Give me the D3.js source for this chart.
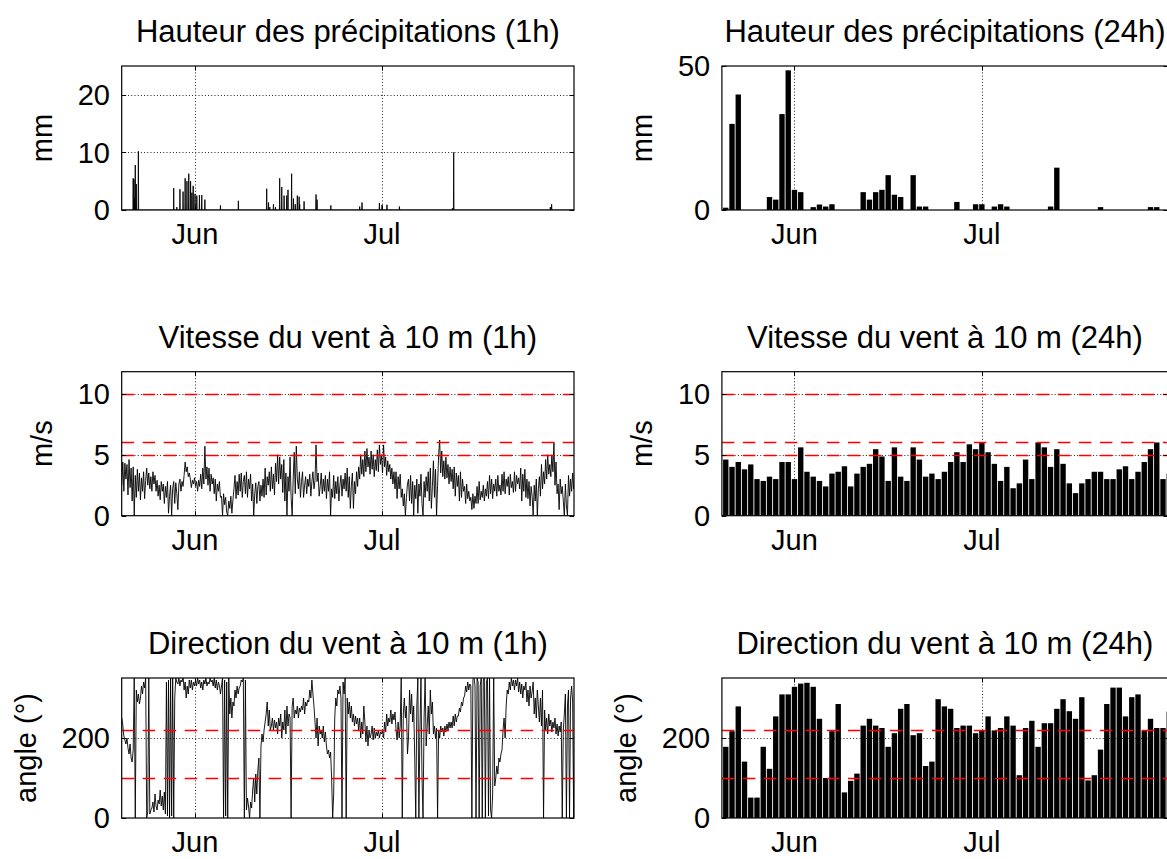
<!DOCTYPE html>
<html>
<head>
<meta charset="utf-8">
<script src="https://cdn.jsdelivr.net/npm/d3@7"></script>
<style>
  body { margin: 0; background: #fff; }
  svg text { font-family: "Liberation Sans", Arial, Helvetica, sans-serif; fill: #000; }
</style>
</head>
<body>
<svg id="chart" width="1167" height="859"></svg>
<script>
// ---------- time base ----------
const DAY = 864e5, HOUR = 36e5;
const t0 = Date.UTC(2013, 4, 20);                 // 20 mai, 00:00
const hourlyStart = Date.UTC(2013, 4, 20, 6);     // first sample of the sub-daily series
const hourlyStepHours = 4;
const firstDailyDay = 1;                          // daily bars start on 21 mai

const monthTicks = [Date.UTC(2013, 5, 1), Date.UTC(2013, 6, 1)];
const monthLabels = ["Jun", "Jul"];

const titles = [
  "Hauteur des précipitations (1h)", "Hauteur des précipitations (24h)",
  "Vitesse du vent à 10 m (1h)", "Vitesse du vent à 10 m (24h)",
  "Direction du vent à 10 m (1h)", "Direction du vent à 10 m (24h)"
];
const yLabels = ["mm", "m/s", "angle (°)"];

const precipTicks1h = [0, 10, 20];
const precipTicks24h = [0, 50];
const windTicks = [0, 5, 10];
const dirTicks = [0, 200];

const windThresholds = [5, 6, 10];
const dirThresholds = [100, 220];

// ---------- hourly precipitation: non-zero hours (hours after 20 mai 00:00) ----------
const precipHour = [50, 53, 55, 58, 60, 62, 70,
  206, 218, 230, 242, 250, 257, 264, 271, 276, 281, 288, 295, 305, 314, 326,
  386, 455,
  564, 571, 576, 590, 598, 614, 622, 631, 641, 646, 660, 667, 674, 682, 689, 691, 708,
  754, 758, 811, 922, 931, 998, 1008, 1027, 1075, 1279, 1284, 1656, 1661];
const precipMm = [5.5, 5.3, 2.0, 7.8, 1.0, 4.5, 10.2,
  3.8, 0.5, 3.6, 3.2, 5.5, 5.0, 6.3, 5.0, 3.0, 4.2, 2.8, 2.5, 2.6, 2.6, 1.8,
  0.8, 1.6,
  3.7, 1.3, 0.5, 1.0, 0.5, 5.5, 4.0, 2.5, 2.5, 3.5, 6.3, 2.0, 1.0, 2.5, 2.3, 1.0, 1.5,
  2.7, 1.8, 0.8, 0.6, 1.3, 1.2, 0.9, 0.9, 0.6, 0.3, 10.0, 0.5, 1.0];
const precipLastHour = 1748;

// ---------- daily precipitation (mm), from 21 mai ----------
const precipDaily = [
  0.8, 29.9, 40.1, 0, 0, 0, 0, 4.5, 3.6, 33.3,
  48.5, 7.0, 6.2, 0, 1.0, 1.9, 1.2, 2.0, 0, 0,
  0, 0, 6.2, 3.6, 6.2, 7.0, 12.1, 5.3, 4.5, 0,
  12.1, 1.2, 1.2, 0, 0, 0, 0, 2.8, 0, 0,
  2.0, 2.0, 0, 1.2, 2.0, 1.2, 0, 0, 0, 0,
  0, 0, 1.2, 14.7, 0, 0, 0, 0, 0, 0,
  1.0, 0, 0, 0, 0, 0, 0, 0, 1.0, 1.0,
  0, 0];

// ---------- wind speed (m/s), one row per day, 4-hourly ----------
const windSpeed = [
  2.5,4.4,2.0,4.3,3.0,4.2,  1.7,4.6,2.3,3.9,1.2,4.0,  0.0,3.3,1.5,3.8,2.0,3.5,  1.3,3.1,2.0,3.6,1.4,2.9,
  3.9,2.5,3.5,2.2,3.2,2.0,  3.6,2.6,3.3,2.0,2.9,1.6,  2.5,1.3,2.8,2.0,2.6,1.0,  2.4,1.5,2.8,0.2,1.6,2.5,
  0.0,2.2,2.8,1.0,2.7,1.8,  0.5,2.6,3.0,2.0,2.8,2.4,  3.3,4.4,3.6,4.0,3.2,3.5,  3.0,2.3,2.9,2.6,3.1,2.4,
  2.8,2.0,2.9,2.4,3.4,2.2,  3.9,2.6,5.7,3.0,4.0,2.5,  3.9,2.0,3.4,2.6,3.1,1.8,  3.0,1.2,2.6,2.0,2.8,1.5,
  1.6,0.0,1.8,0.9,1.5,0.3,  0.0,1.2,0.6,1.6,0.2,1.3,  2.2,3.3,1.4,2.8,1.7,3.4,  2.0,3.5,1.5,2.8,3.3,1.8,
  3.6,1.5,3.0,2.2,3.4,1.2,  2.6,0.0,1.8,2.7,1.0,2.4,  2.8,1.2,2.5,1.6,3.0,1.5,  3.9,1.7,3.2,2.5,3.6,2.0,
  4.0,2.2,3.4,1.7,4.3,2.8,  5.0,2.6,4.8,3.0,4.2,1.9,  4.6,1.2,3.5,0.0,3.2,2.0,  4.8,1.5,0.0,3.0,5.2,1.8,
  5.7,3.0,2.2,3.6,1.5,2.8,  3.6,1.5,2.5,3.2,1.8,3.0,  2.4,3.4,1.6,2.8,3.6,2.2,  2.9,5.8,2.8,3.5,1.6,2.4,
  3.5,1.8,3.0,2.0,3.3,1.4,  3.0,2.0,3.6,0.0,2.2,1.5,  3.3,1.4,2.8,1.8,3.2,1.2,  2.5,3.3,1.6,3.0,2.2,3.5,
  2.0,3.9,1.5,3.2,0.6,2.5,  3.5,0.6,2.8,1.8,3.6,2.4,  4.0,3.0,5.0,3.4,4.6,3.2,  5.3,3.6,5.5,4.0,4.8,3.4,
  5.3,3.8,5.0,3.2,4.6,3.7,  5.4,3.6,5.8,4.2,5.0,3.5,  5.8,4.0,4.8,3.3,4.5,3.6,  4.2,3.0,3.9,2.6,3.6,2.2,
  3.6,1.4,3.2,2.2,3.4,1.5,  2.2,0.8,1.8,0.0,1.5,2.6,  3.0,1.2,3.3,1.0,2.8,0.0,  2.5,1.4,3.0,0.2,2.6,1.6,
  3.4,1.0,0.0,2.8,1.5,3.2,  2.0,3.6,1.2,3.9,0.6,2.4,  4.5,1.5,3.8,0.0,2.5,5.0,  6.2,3.5,5.3,3.2,4.5,3.0,
  4.8,3.1,4.2,2.6,4.0,2.8,  3.8,2.2,4.0,1.6,3.5,2.4,  3.3,1.2,3.6,1.5,3.0,2.0,  2.4,1.0,2.6,1.4,2.0,1.2,
  1.5,0.5,1.8,0.6,1.6,1.0,  2.4,1.0,2.8,1.3,2.0,1.5,  2.5,1.2,2.2,1.6,2.8,1.4,  3.3,1.8,3.0,1.4,2.6,2.0,
  3.0,1.6,3.3,2.0,2.5,1.7,  3.4,2.0,3.6,1.8,3.0,2.4,  3.2,1.7,3.4,2.3,2.8,1.9,  3.6,2.0,3.3,2.6,3.1,2.2,
  3.9,1.2,3.4,2.0,3.8,1.5,  3.0,1.4,2.8,0.8,2.4,1.6,  0.0,2.5,1.2,3.0,0.0,2.2,  3.2,1.6,4.2,2.2,3.6,2.6,
  4.6,3.0,5.0,3.4,4.2,3.2,  5.0,3.6,6.0,2.5,4.4,1.8,  2.6,0.5,3.0,1.8,2.4,1.2,  0.0,2.6,0.8,0.0,3.3,1.6,
  3.0,2.0,3.5,2.2,3.0,2.6];

// ---------- daily mean wind speed (m/s), from 21 mai ----------
const windDaily = [
  4.6, 4.0, 4.4, 3.8, 4.2, 3.0, 2.85, 3.2, 3.0, 4.4,
  4.4, 3.0, 5.6, 3.6, 3.2, 2.85, 2.4, 3.45, 3.6, 4.05,
  2.4, 3.45, 4.0, 4.25, 5.45, 4.85, 2.85, 5.6, 3.2, 2.85,
  5.6, 4.6, 3.2, 3.45, 3.0, 3.6, 4.4, 5.2, 4.4, 5.85,
  5.45, 6.0, 5.2, 4.25, 2.85, 4.0, 2.25, 2.65, 4.6, 3.0,
  6.0, 5.6, 4.0, 5.45, 4.25, 2.65, 1.85, 2.65, 3.0, 3.6,
  3.6, 3.0, 3.0, 3.8, 4.05, 3.0, 3.6, 4.4, 5.45, 6.0,
  3.0, 3.45];

// ---------- wind direction (°), one row per day, 4-hourly ----------
const windDir = [
  250,232,205,195,185,200,  175,160,185,150,140,170,  350,0,320,290,310,285,  300,330,310,340,325,350,
  0,15,350,10,20,25,        40,15,60,30,20,45,        35,70,30,55,20,65,        10,340,5,345,0,350,
  5,350,0,300,350,340,      335,350,330,345,340,355,  320,340,300,330,310,345,  325,345,320,340,330,345,
  330,350,335,345,325,340,  320,345,335,350,330,340,  335,350,340,345,330,350,  325,345,320,340,330,310,
  330,350,0,345,5,340,      0,350,260,300,250,290,    280,320,300,330,310,325,  330,345,340,350,0,345,
  20,50,30,0,40,25,         70,100,40,110,60,120,     150,0,180,210,190,220,    240,260,290,230,270,220,
  230,250,220,245,225,240,  210,250,230,260,200,240,  220,270,210,280,230,260,  250,0,280,300,250,270,
  260,280,250,275,265,280,  270,300,260,290,280,295,  290,320,300,345,310,280,  240,200,250,180,230,210,
  220,200,230,190,215,180,  160,170,150,165,100,0,    60,250,300,280,320,310,   330,300,0,340,310,350,
  0,300,260,290,250,280,    240,260,230,255,235,250,  220,250,200,240,210,280,  240,190,230,180,220,200,
  210,230,195,225,200,215,  205,220,200,215,210,220,  200,240,215,260,230,250,  240,270,235,260,245,265,
  220,195,240,200,230,350,  0,260,300,250,280,160,    200,320,260,310,240,280,  150,0,280,350,0,220,
  350,100,0,250,350,180,    230,280,210,320,260,290,  210,230,200,225,0,220,    200,230,215,225,205,230,
  215,235,220,240,225,240,  225,255,230,260,240,255,  255,275,265,290,280,300,  305,330,315,340,320,335,
  330,0,345,355,330,0,      350,340,0,330,350,0,      345,350,0,340,350,5,      350,20,0,60,350,80,
  100,130,110,150,140,160,  170,220,250,200,280,320,  310,340,320,350,330,345,  320,345,330,350,315,340,
  310,335,300,330,320,340,  290,320,280,330,300,315,  340,260,300,250,320,280,  240,300,230,320,0,270,
  220,250,210,260,230,245,  215,240,225,250,210,235,  205,230,215,240,0,220,    260,310,0,280,320,0,
  300,330,290,0,320,340];

// ---------- daily mean wind direction (°), from 21 mai ----------
const dirDaily = [
  178, 217, 279, 141, 51, 51, 178, 123, 254, 309,
  309, 328, 336, 338, 328, 248, 100, 217, 285, 64,
  93, 111, 231, 248, 231, 225, 178, 212, 273, 285,
  207, 212, 130, 141, 297, 279, 273, 225, 231, 231,
  212, 219, 254, 219, 225, 254, 231, 107, 225, 243,
  178, 237, 237, 273, 297, 267, 248, 302, 94, 107,
  171, 285, 326, 326, 254, 302, 309, 219, 248, 225,
  225, 266];

// ---------- series built from the arrays above ----------
const hourlyTime = i => hourlyStart + i * hourlyStepHours * HOUR;
const windSeries = windSpeed.map((v, i) => ({ t: hourlyTime(i), v }));
const dirSeries = windDir.map((v, i) => ({ t: hourlyTime(i), v }));
const rainByHour = new Map(precipHour.map((h, i) => [h, precipMm[i]]));
const precipSeries = d3.range(6, precipLastHour + 1).map(h => ({ t: t0 + h * HOUR, v: rainByHour.get(h) || 0 }));
const dailyPoints = arr => arr.map((v, i) => ({ t: t0 + (firstDailyDay + i) * DAY, v }));

// ---------- layout ----------
const svg = d3.select("#chart");
const rows = [{ y0: 66, y1: 210 }, { y0: 371.7, y1: 515.7 }, { y0: 678, y1: 818 }];
const cols = [
  { x0: 121.7, x1: 574, span: [0.24, 72.8] },
  { x0: 721.9, x1: 1168, span: [0.38, 71.8] }
];
const tickFont = 29, titleFont = 31;

let clipId = 0;
function panel(row, col, cfg) {
  const c = cols[col];
  const { y0, y1 } = rows[row];
  const x = d3.scaleUtc().domain([t0 + c.span[0] * DAY, t0 + c.span[1] * DAY]).range([c.x0, c.x1]);
  const y = d3.scaleLinear().domain(cfg.yDomain).range([y1, y0]);
  const g = svg.append("g");

  const id = "clip" + (clipId++);
  g.append("clipPath").attr("id", id).append("rect")
    .attr("x", c.x0).attr("y", y0).attr("width", c.x1 - c.x0).attr("height", y1 - y0);

  // dotted grid at the ticks
  const grid = g.append("g").attr("stroke", "#000").attr("stroke-width", 1)
    .attr("stroke-dasharray", "1,2.2").attr("opacity", 0.85);
  grid.selectAll(".gx").data(monthTicks).join("line")
    .attr("x1", d => Math.round(x(d)) + 0.5).attr("x2", d => Math.round(x(d)) + 0.5)
    .attr("y1", y0).attr("y2", y1);
  grid.selectAll(".gy").data(cfg.yTicks.filter(v => v > cfg.yDomain[0] && v < cfg.yDomain[1])).join("line")
    .attr("x1", c.x0).attr("x2", c.x1)
    .attr("y1", d => Math.round(y(d)) + 0.5).attr("y2", d => Math.round(y(d)) + 0.5);

  const plot = g.append("g").attr("clip-path", `url(#${id})`);
  cfg.draw(plot, x, y);

  // red dashed threshold lines
  if (cfg.refs) {
    plot.append("g").selectAll("line").data(cfg.refs).join("line")
      .attr("x1", c.x0).attr("x2", c.x1)
      .attr("y1", d => Math.round(y(d)) + 0.5).attr("y2", d => Math.round(y(d)) + 0.5)
      .attr("stroke", "#ff0000").attr("stroke-width", 1.3)
      .attr("stroke-dasharray", "12.5,8.5");
  }

  // box
  g.append("rect").attr("x", c.x0).attr("y", y0).attr("width", c.x1 - c.x0).attr("height", y1 - y0)
    .attr("fill", "none").attr("stroke", "#000").attr("stroke-width", 1.2);

  // inward tick marks
  const tk = g.append("g").attr("stroke", "#000").attr("stroke-width", 1);
  cfg.yTicks.forEach(v => {
    const yy = Math.round(y(v)) + 0.5;
    tk.append("line").attr("x1", c.x0).attr("x2", c.x0 + 4.5).attr("y1", yy).attr("y2", yy);
    tk.append("line").attr("x1", c.x1).attr("x2", c.x1 - 4.5).attr("y1", yy).attr("y2", yy);
  });
  monthTicks.forEach(t => {
    const xx = Math.round(x(t)) + 0.5;
    tk.append("line").attr("x1", xx).attr("x2", xx).attr("y1", y1).attr("y2", y1 - 4.5);
    tk.append("line").attr("x1", xx).attr("x2", xx).attr("y1", y0).attr("y2", y0 + 4.5);
  });

  // title
  g.append("text").attr("x", (c.x0 + c.x1) / 2).attr("y", y0 - 24)
    .attr("text-anchor", "middle").attr("font-size", titleFont).text(cfg.title);

  // x tick labels
  g.selectAll(".xl").data(monthTicks).join("text")
    .attr("x", d => x(d)).attr("y", y1 + 34).attr("text-anchor", "middle")
    .attr("font-size", tickFont).text((d, i) => monthLabels[i]);

  // y tick labels
  const yl = g.selectAll(".yl").data(cfg.yTicks).join("text")
    .attr("x", c.x0 - 11.7).attr("y", d => y(d)).attr("dy", "0.35em")
    .attr("text-anchor", "end").attr("font-size", tickFont).text(d => d);
  const maxW = d3.max(yl.nodes(), n => n.getComputedTextLength());

  // y label
  const lx = c.x0 - 11.7 - maxW - 26;
  g.append("text").attr("transform", `translate(${lx},${(y0 + y1) / 2}) rotate(-90)`)
    .attr("text-anchor", "middle").attr("font-size", tickFont).text(cfg.ylabel);
}

function lineDraw(series) {
  return (g, x, y) => {
    g.append("path").datum(series)
      .attr("fill", "none").attr("stroke", "#000").attr("stroke-width", 0.9)
      .attr("stroke-linejoin", "miter")
      .attr("d", d3.line().x(d => x(d.t)).y(d => y(d.v)));
  };
}
function barDraw(points) {
  return (g, x, y) => {
    const w = x(t0 + 0.86 * DAY) - x(t0);
    g.selectAll("rect.bar").data(points.filter(d => d.v > 0)).join("rect")
      .attr("x", d => x(d.t) - w / 2).attr("width", w)
      .attr("y", d => y(d.v)).attr("height", d => y(0) - y(d.v))
      .attr("fill", "#000");
  };
}

panel(0, 0, { title: titles[0], ylabel: yLabels[0], yDomain: [0, 25], yTicks: precipTicks1h,
  draw: lineDraw(precipSeries) });
panel(0, 1, { title: titles[1], ylabel: yLabels[0], yDomain: [0, 50], yTicks: precipTicks24h,
  draw: barDraw(dailyPoints(precipDaily)) });
panel(1, 0, { title: titles[2], ylabel: yLabels[1], yDomain: [0, 11.8], yTicks: windTicks,
  refs: windThresholds, draw: lineDraw(windSeries) });
panel(1, 1, { title: titles[3], ylabel: yLabels[1], yDomain: [0, 11.8], yTicks: windTicks,
  refs: windThresholds, draw: barDraw(dailyPoints(windDaily)) });
panel(2, 0, { title: titles[4], ylabel: yLabels[2], yDomain: [0, 350], yTicks: dirTicks,
  refs: dirThresholds, draw: lineDraw(dirSeries) });
panel(2, 1, { title: titles[5], ylabel: yLabels[2], yDomain: [0, 350], yTicks: dirTicks,
  refs: dirThresholds, draw: barDraw(dailyPoints(dirDaily)) });
</script>
</body>
</html>
